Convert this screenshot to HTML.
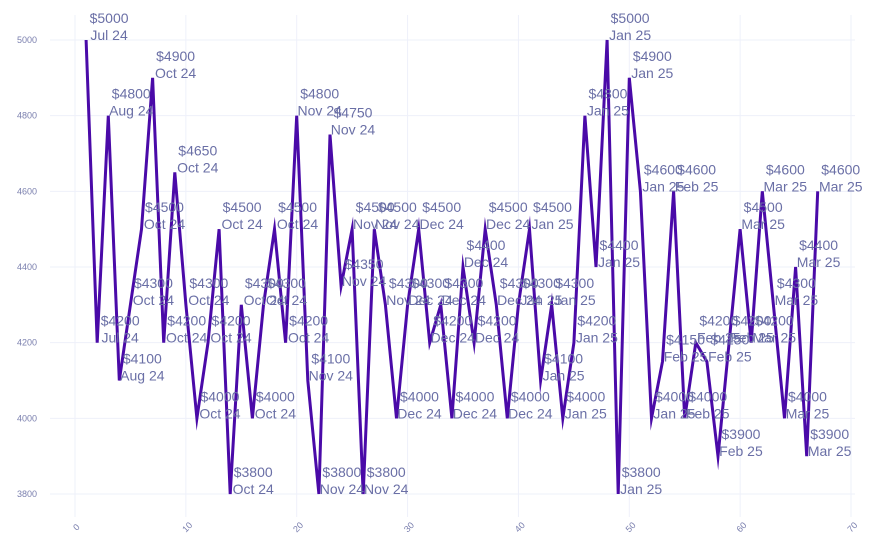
<!DOCTYPE html>
<html><head><meta charset="utf-8"><style>
html,body{margin:0;padding:0;background:#fff;}
svg{display:block;font-family:"Liberation Sans",sans-serif;}
</style></head><body>
<svg id="chart" width="882" height="558" viewBox="0 0 882 558" xmlns="http://www.w3.org/2000/svg">
<g id="grid"></g>
<g id="yaxis"></g>
<g id="xaxis"></g>
<g id="series"></g>
<g id="labels"></g>
</svg>
<script>
const prices = [5000,4200,4800,4100,4300,4500,4900,4200,4650,4300,4000,4200,4500,3800,4300,4000,4300,4500,4200,4800,4100,3800,4750,4350,4500,3800,4500,4300,4000,4300,4500,4200,4300,4000,4400,4200,4500,4300,4000,4300,4500,4100,4300,4000,4200,4800,4400,5000,3800,4900,4600,4000,4150,4600,4000,4200,4150,3900,4200,4500,4200,4600,4300,4000,4400,3900,4600];
const months = ["Jul 24","Jul 24","Aug 24","Aug 24","Oct 24","Oct 24","Oct 24","Oct 24","Oct 24","Oct 24","Oct 24","Oct 24","Oct 24","Oct 24","Oct 24","Oct 24","Oct 24","Oct 24","Oct 24","Nov 24","Nov 24","Nov 24","Nov 24","Nov 24","Nov 24","Nov 24","Nov 24","Nov 24","Dec 24","Dec 24","Dec 24","Dec 24","Dec 24","Dec 24","Dec 24","Dec 24","Dec 24","Dec 24","Dec 24","Jan 25","Jan 25","Jan 25","Jan 25","Jan 25","Jan 25","Jan 25","Jan 25","Jan 25","Jan 25","Jan 25","Jan 25","Jan 25","Feb 25","Feb 25","Feb 25","Feb 25","Feb 25","Feb 25","Feb 25","Mar 25","Mar 25","Mar 25","Mar 25","Mar 25","Mar 25","Mar 25","Mar 25"];
const yTicks = [3800,4000,4200,4400,4600,4800,5000];
const xTicks = [0,10,20,30,40,50,60,70];

const NS="http://www.w3.org/2000/svg";
const X0=75, X1=851, Y0=494, Y1=40;
function xs(v){return X0+(v-0)/(70-0)*(X1-X0);}
function ys(v){return Y0-(v-3800)/(5000-3800)*(Y0-Y1);}
function mk(tag,attrs,parent){const e=document.createElementNS(NS,tag);for(const k in attrs)e.setAttribute(k,attrs[k]);parent.appendChild(e);return e;}
const grid=document.getElementById('grid'),yax=document.getElementById('yaxis'),xax=document.getElementById('xaxis'),ser=document.getElementById('series'),lab=document.getElementById('labels');

yTicks.forEach(t=>{
  const l=mk('line',{x1:50,x2:855,y1:ys(t),y2:ys(t),stroke:'#eef0fa','stroke-width':1},grid);
  
  
  const tx=mk('text',{x:37,y:ys(t)+3,'text-anchor':'end','font-size':9,fill:'#7a7fae'},yax);
  tx.textContent=t;
  
  
});
xTicks.forEach(t=>{
  const l=mk('line',{x1:xs(t),x2:xs(t),y1:15,y2:517,stroke:'#eef0fa','stroke-width':1},grid);
  
  
  const tx=mk('text',{x:xs(t)+3,y:532,'text-anchor':'middle','font-size':9,fill:'#7a7fae',transform:`rotate(-45 ${xs(t)} 530)`},xax);
  tx.textContent=t;
  
  
});

const pts=prices.map((p,i)=>xs(i+1).toFixed(1)+','+ys(p).toFixed(1)).join(' ');
const line=mk('polyline',{points:pts,fill:'none',stroke:'#4a0aa8','stroke-width':3,'stroke-linejoin':'miter','stroke-miterlimit':10},ser);



prices.forEach((p,i)=>{
  const x=xs(i+1)+23,y=ys(p);
  const t=mk('text',{x:x,y:y-17,'text-anchor':'middle','font-size':14,fill:'#6a6fa6'},lab);
  t.textContent='$'+p;
  
  
  const m=mk('text',{x:x,y:y,'text-anchor':'middle','font-size':14,fill:'#6a6fa6'},lab);
  m.textContent=months[i];
  
  
});
</script>
</body></html>
